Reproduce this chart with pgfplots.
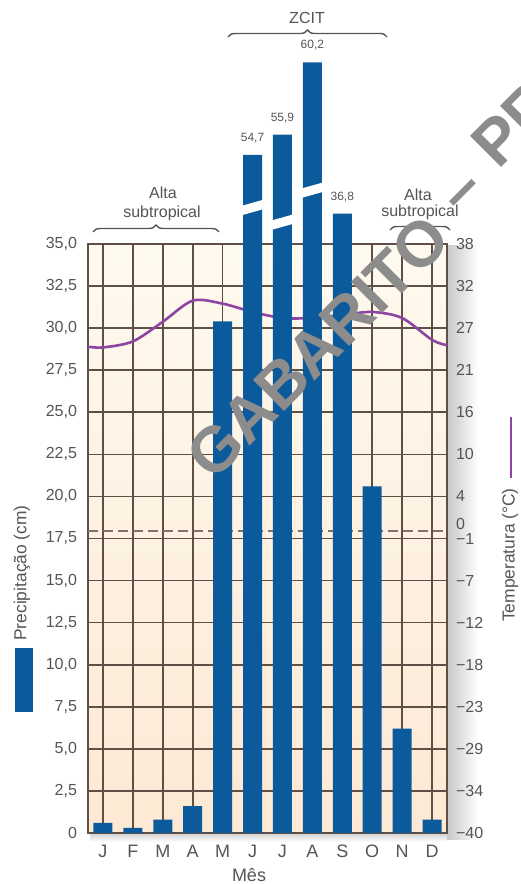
\documentclass[border=0pt]{standalone}
\usepackage{fontspec}
\setmainfont{Liberation Sans}
\usepackage{pgfplots}
\usepackage{pgfplotstable}
\pgfplotsset{compat=1.18}
\usetikzlibrary{decorations.pathreplacing}
\definecolor{barblue}{HTML}{0B5A9B}
\definecolor{templine}{HTML}{8E44A2}
\definecolor{gridc}{HTML}{5E5046}
\definecolor{ticktext}{HTML}{555555}
\definecolor{bgtop}{HTML}{FEF9EF}
\definecolor{bgbot}{HTML}{FDE9D4}

\pgfplotstableread{
x y
0 0.6
1 0.3
2 0.8
3 1.6
4 30.4
9 20.6
10 6.2
11 0.8
}\precipA
\pgfplotstableread{
x y
5 54.7
6 55.9
7 60.2
8 36.8
}\precipB
\pgfplotstableread{
x t
-0.5 24.4
0 24.3
1 25.1
2 27.7
3 30.5
4 30.1
5 29.0
6 28.2
7 28.2
8 28.6
9 29.0
10 28.2
11 25.3
11.5 24.6
}\temp

\begin{document}
\begin{tikzpicture}
\useasboundingbox (-44pt,-25.5pt) rectangle (216pt,416.5pt);
% shadow
\shade[left color=black!22, right color=white] (179.5pt,-3.5pt) rectangle (195pt,293.5pt);
\shade[top color=black!18, bottom color=white] (1pt,0pt) rectangle (179.5pt,-4.5pt);

% temperature axis with background and grid
\begin{axis}[
  width=179.5pt, height=294.5pt, scale only axis,
  xmin=-0.5, xmax=11.5, ymin=-40, ymax=38,
  axis background/.style={shade, top color=bgtop, bottom color=bgbot},
  xtick={0,...,11},
  xticklabels={J,F,M,A,M,J,J,A,S,O,N,D},
  ytick={-40,-34.4286,-28.8571,-23.2857,-17.7143,-12.1429,-6.5714,-1,4.5714,10.1429,15.7143,21.2857,26.8571,32.4286,38},
  yticklabels={−40,−34,−29,−23,−18,−12,−7,−1,4,10,16,21,27,32,38},
  yticklabel pos=right,
  extra y ticks={0}, extra y tick labels={0},
  extra y tick style={grid=none, yticklabel style={yshift=3.5pt}},
  grid=major,
  major grid style={gridc, line width=0.85pt},
  axis line style={gridc, line width=0.9pt},
  major tick length=0pt,
  tick label style={ticktext, font=\fontsize{8}{9}\selectfont},
  yticklabel style={xshift=1pt},
  xticklabel style={font=\fontsize{9}{10}\selectfont, yshift=-2.5pt},
]
\addplot[gridc!80, line width=0.8pt, dash pattern=on 5pt off 2.5pt] coordinates {(-0.5,0) (11.5,0)};
\addplot[templine, line width=1.3pt, smooth] table[x=x, y=t] {\temp};
\end{axis}

% precipitation axis with bars
\begin{axis}[
  width=179.5pt, height=294.5pt, scale only axis,
  xmin=-0.5, xmax=11.5, ymin=0, ymax=35,
  hide x axis,
  axis y line*=left,
  y axis line style={draw=none},
  ytick={0,2.5,5,7.5,10,12.5,15,17.5,20,22.5,25,27.5,30,32.5,35},
  yticklabels={0,{2,5},{5,0},{7,5},{10,0},{12,5},{15,0},{17,5},{20,0},{22,5},{25,0},{27,5},{30,0},{32,5},{35,0}},
  major tick length=0pt,
  tick label style={ticktext, font=\fontsize{8}{9}\selectfont},
  yticklabel style={xshift=-2pt},
  clip=false,
]
\addplot[ybar, bar shift=0pt, bar width=9.5pt, fill=barblue, draw=none] table[x=x, y=y] {\precipA};
\addplot[ybar, bar shift=0pt, bar width=9.5pt, fill=barblue, draw=none,
  y filter/.expression={y>37 ? y-14.4 : y},
  point meta=explicit,
  nodes near coords={\pgfmathprintnumber[assume math mode=true,use comma,fixed,fixed zerofill,precision=1]{\pgfplotspointmeta}},
  nodes near coords style={font=\fontsize{6}{7}\selectfont, text=ticktext, anchor=south, yshift=2.5pt}]
  table[x=x, y=y, meta=y] {\precipB};
% axis breaks
\fill[white] (axis cs:4.6,36.69) -- (axis cs:5.4,37.09) -- (axis cs:5.4,37.65) -- (axis cs:4.6,37.25) -- cycle;
\fill[white] (axis cs:5.6,35.82) -- (axis cs:6.4,36.22) -- (axis cs:6.4,36.78) -- (axis cs:5.6,36.38) -- cycle;
\fill[white] (axis cs:6.6,37.72) -- (axis cs:7.4,38.12) -- (axis cs:7.4,38.68) -- (axis cs:6.6,38.28) -- cycle;
\end{axis}

% braces and annotations
\begin{scope}[ticktext, line width=0.7pt]
\draw[decorate, decoration={brace, amplitude=3.5pt}] (2.5pt,300.5pt) -- (65.5pt,300.5pt);
\draw[decorate, decoration={brace, amplitude=3.5pt}] (70pt,398pt) -- (149.5pt,398pt);
\draw[decorate, decoration={brace, amplitude=3.5pt}] (151pt,301.5pt) -- (181pt,301.5pt);
\end{scope}
\begin{scope}[every node/.style={text=ticktext, font=\fontsize{8}{9}\selectfont, inner sep=0pt}]
\node at (109.5pt,407.5pt) {ZCIT};
\node at (37.5pt,320pt) {Alta};
\node at (37pt,310pt) {subtropical};
\node at (165pt,319pt) {Alta};
\node at (166pt,310.5pt) {subtropical};
\node[font=\fontsize{9}{10}\selectfont] at (80.5pt,-21pt) {Mês};
\node[rotate=90, font=\fontsize{8.7}{10}\selectfont] at (-33pt,130pt) {Precipitação (cm)};
\node[rotate=90, font=\fontsize{8.7}{10}\selectfont] at (211pt,139pt) {Temperatura (°C)};
\end{scope}
\fill[barblue] (-36.5pt,92.5pt) rectangle (-27.5pt,60.5pt);
\draw[templine, line width=1.4pt] (211.5pt,208pt) -- (211.5pt,177.5pt);

% watermark
\begin{scope}[every node/.style={text=black!45, font=\bfseries\fontsize{32}{33}\selectfont, rotate=45, inner sep=0pt}]
\node at (115pt,243pt) {GABARITO};
\node at (190pt,317.5pt) {–};
\node[anchor=base west] at (205pt,331pt) {PR};
\end{scope}
\end{tikzpicture}
\end{document}
